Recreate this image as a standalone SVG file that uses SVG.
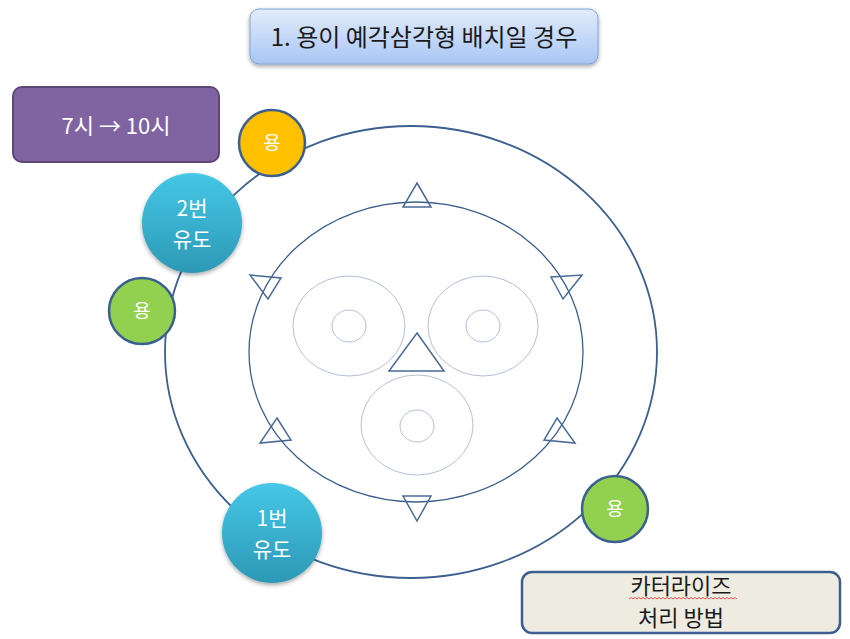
<svg xmlns="http://www.w3.org/2000/svg" width="850" height="639" viewBox="0 0 850 639">
<defs>
<linearGradient id="gTitle" x1="0" y1="0" x2="0" y2="1"><stop offset="0" stop-color="#E2ECFC"/><stop offset="1" stop-color="#A8C6F4"/></linearGradient>
<linearGradient id="gTeal" x1="0" y1="0" x2="0" y2="1"><stop offset="0" stop-color="#45C8E6"/><stop offset="1" stop-color="#2C98B6"/></linearGradient>
<filter id="sh" x="-20%" y="-20%" width="140%" height="150%"><feDropShadow dx="0" dy="2" stdDeviation="2" flood-color="#000" flood-opacity="0.35"/></filter>
<style>
.t{font-family:"Noto Sans CJK KR","Noto Sans",sans-serif;text-anchor:middle}
.ring{fill:none;stroke:#3B5F8E}
.pit{fill:none;stroke:#B3C0D5;stroke-width:1}
.tri{fill:none;stroke:#4A6A96;stroke-width:1.5;stroke-linejoin:miter}
.dot{stroke:#3B5F8E;stroke-width:2.5}
.guide{fill:url(#gTeal);filter:url(#sh)}
</style>
</defs>
<rect width="850" height="639" fill="#FFFFFF"/>
<g id="connectors">
<ellipse class="ring" cx="411" cy="352" rx="246" ry="226" stroke-width="1.8"/>
</g>
<g id="inner">
<ellipse class="ring" cx="416" cy="352" rx="167" ry="150" stroke-width="1.3"/>
<ellipse class="pit" cx="349" cy="326" rx="56" ry="50"/>
<ellipse class="pit" cx="349" cy="326" rx="17" ry="16"/>
<ellipse class="pit" cx="483" cy="326" rx="55" ry="50"/>
<ellipse class="pit" cx="483" cy="326" rx="17" ry="16"/>
<ellipse class="pit" cx="417" cy="425" rx="56" ry="50"/>
<ellipse class="pit" cx="417" cy="426" rx="17" ry="16"/>
<polygon class="tri" points="417,183 431,207 403,207"/>
<polygon class="tri" points="250,275 281,278 268,299"/>
<polygon class="tri" points="551,277 582,275 563,299"/>
<polygon class="tri" points="417,333 444,371 389,371"/>
<polygon class="tri" points="277,418 291,440 260,443"/>
<polygon class="tri" points="557,418 575,443 544,440"/>
<polygon class="tri" points="403,496 431,496 417,521"/>
</g>
<g id="title">
<rect x="250" y="9" width="348" height="55" rx="9" fill="url(#gTitle)" stroke="#7FA2D6" stroke-width="1" filter="url(#sh)"/>
<text class="t" x="424" y="46" font-size="24" fill="#1A1A1A">1. 용이 예각삼각형 배치일 경우</text>
</g>
<g id="time">
<rect x="13" y="87" width="206" height="75" rx="9" fill="#8064A2" stroke="#5C4776" stroke-width="2"/>
<text class="t" x="116" y="134" font-size="22" fill="#FFFFFF">7시 → 10시</text>
</g>
<g id="yong-top">
<circle class="dot" cx="272" cy="143" r="33" fill="#FFC000"/>
<text class="t" x="272" y="150" font-size="19" fill="#FFFFFF">용</text>
</g>
<g id="guide-2">
<circle class="guide" cx="192" cy="223" r="50"/>
<text class="t" x="192" y="216" font-size="21" fill="#FFFFFF"><tspan x="192">2번</tspan><tspan x="192" dy="31">유도</tspan></text>
</g>
<g id="yong-left">
<circle class="dot" cx="142" cy="311" r="33" fill="#92D050"/>
<text class="t" x="142" y="318" font-size="19" fill="#FFFFFF">용</text>
</g>
<g id="guide-1">
<circle class="guide" cx="272" cy="533" r="50"/>
<text class="t" x="272" y="526" font-size="21" fill="#FFFFFF"><tspan x="272">1번</tspan><tspan x="272" dy="31">유도</tspan></text>
</g>
<g id="yong-right">
<circle class="dot" cx="615" cy="509" r="33" fill="#92D050"/>
<text class="t" x="615" y="516" font-size="19" fill="#FFFFFF">용</text>
</g>
<g id="method">
<rect x="522" y="572" width="318" height="61" rx="10" fill="#EEECE1" stroke="#3D5F8F" stroke-width="2.5"/>
<path d="M629,599 l2,-1.5 l2,1.5 l2,-1.5 l2,1.5 l2,-1.5 l2,1.5 l2,-1.5 l2,1.5 l2,-1.5 l2,1.5 l2,-1.5 l2,1.5 l2,-1.5 l2,1.5 l2,-1.5 l2,1.5 l2,-1.5 l2,1.5 l2,-1.5 l2,1.5 l2,-1.5 l2,1.5 l2,-1.5 l2,1.5 l2,-1.5 l2,1.5 l2,-1.5 l2,1.5 l2,-1.5 l2,1.5 l2,-1.5 l2,1.5 l2,-1.5 l2,1.5 l2,-1.5 l2,1.5 l2,-1.5 l2,1.5 l2,-1.5 l2,1.5 l2,-1.5 l2,1.5 l2,-1.5 l2,1.5 l2,-1.5 l2,1.5 l2,-1.5 l2,1.5 l2,-1.5 l2,1.5 l2,-1.5 l2,1.5 l2,-1.5 l2,1.5" fill="none" stroke="#E03030" stroke-width="0.8"/>
<text class="t" x="681" y="594" font-size="22" fill="#1A1A1A"><tspan x="681">카터라이즈</tspan><tspan x="681" dy="32">처리 방법</tspan></text>
</g>
</svg>
